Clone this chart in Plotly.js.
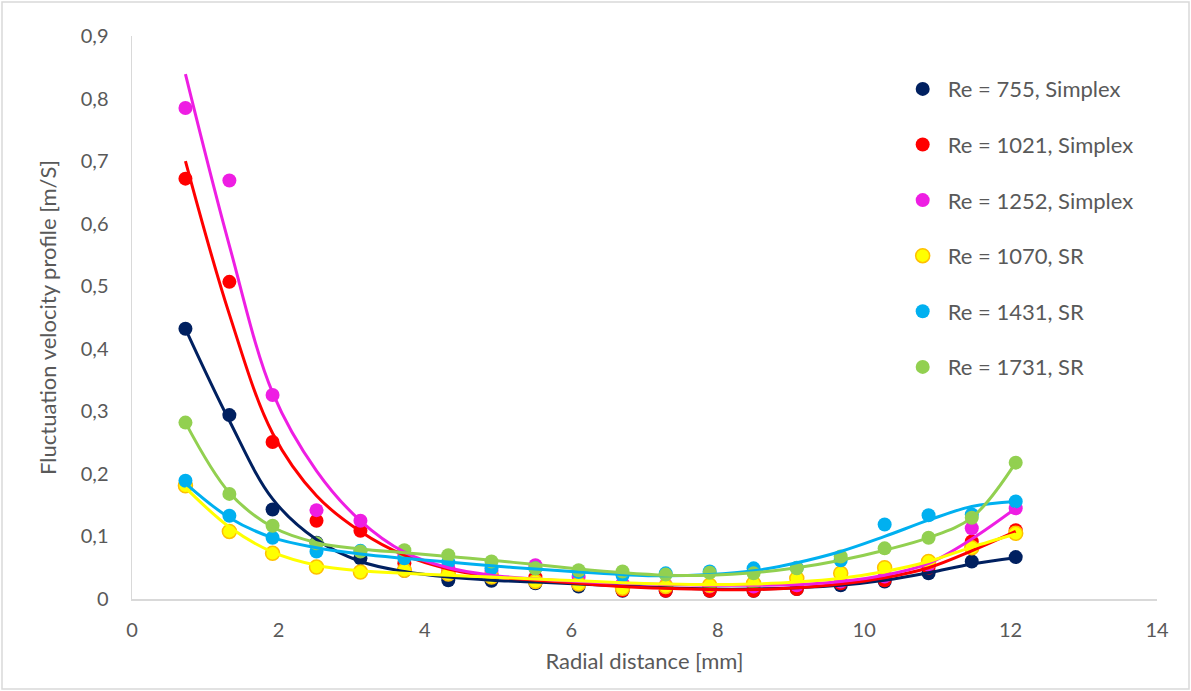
<!DOCTYPE html>
<html>
<head>
<meta charset="utf-8">
<script src="https://cdn.plot.ly/plotly-3.0.1.min.js"></script>
<style>
html,body{margin:0;padding:0;background:#fff;}
#chart{width:1191px;height:691px;}
</style>
</head>
<body>
<div id="chart"></div>
<script>
// Radial distance [mm]
const radial = [0.73,1.33,1.92,2.52,3.12,3.72,4.32,4.91,5.51,6.10,6.70,7.29,7.89,8.49,9.08,9.68,10.28,10.88,11.47,12.07];

// Measured fluctuation velocity [m/s]
const re755  = [0.432,0.294,0.143,0.090,0.065,0.045,0.030,0.029,0.025,0.020,0.013,0.013,0.013,0.013,0.016,0.022,0.028,0.041,0.060,0.067];
const re1021 = [0.672,0.507,0.251,0.125,0.109,0.057,0.045,0.040,0.035,0.025,0.014,0.013,0.013,0.013,0.016,0.025,0.030,0.050,0.092,0.110];
const re1252 = [0.785,0.669,0.326,0.142,0.125,0.070,0.050,0.045,0.054,0.035,0.025,0.022,0.020,0.020,0.022,0.028,0.036,0.055,0.113,0.145];
const re1070 = [0.181,0.108,0.073,0.051,0.043,0.046,0.040,0.035,0.028,0.024,0.017,0.020,0.022,0.025,0.033,0.041,0.050,0.060,0.082,0.105];
const re1431 = [0.189,0.133,0.098,0.076,0.077,0.065,0.059,0.049,0.049,0.043,0.038,0.041,0.044,0.049,0.050,0.062,0.119,0.134,0.135,0.156];
const re1731 = [0.282,0.168,0.117,0.089,0.076,0.078,0.070,0.060,0.049,0.046,0.044,0.039,0.042,0.041,0.049,0.068,0.081,0.098,0.130,0.218];

// Trendline values at the same radial positions
const trend755  = [0.432,0.285,0.160,0.095,0.060,0.044,0.035,0.030,0.027,0.024,0.021,0.018,0.016,0.016,0.018,0.022,0.030,0.042,0.056,0.066];
const trend1021 = [0.700,0.455,0.265,0.165,0.108,0.070,0.048,0.036,0.030,0.025,0.020,0.017,0.015,0.015,0.018,0.024,0.034,0.050,0.077,0.108];
const trend1252 = [0.839,0.565,0.330,0.205,0.125,0.075,0.050,0.038,0.032,0.028,0.025,0.023,0.022,0.022,0.023,0.028,0.038,0.057,0.096,0.145];
const trend1070 = [0.178,0.115,0.075,0.054,0.045,0.041,0.038,0.035,0.032,0.029,0.026,0.024,0.023,0.024,0.027,0.033,0.044,0.060,0.083,0.104];
const trend1431 = [0.185,0.130,0.098,0.082,0.072,0.065,0.059,0.053,0.048,0.043,0.039,0.037,0.039,0.045,0.058,0.076,0.100,0.126,0.148,0.156];
const trend1731 = [0.282,0.170,0.115,0.090,0.080,0.074,0.068,0.062,0.055,0.048,0.042,0.038,0.038,0.042,0.050,0.062,0.078,0.098,0.130,0.218];

const seriesNames = ["Re = 755, Simplex","Re = 1021, Simplex","Re = 1252, Simplex","Re = 1070, SR","Re = 1431, SR","Re = 1731, SR"];
const seriesValues = [re755, re1021, re1252, re1070, re1431, re1731];
const trendValues = [trend755, trend1021, trend1252, trend1070, trend1431, trend1731];
const colors = ["#002060","#FF0000","#EE1EE3","#FFFF00","#00B0F0","#92D050"];
const edgeColors = ["#002060","#FF0000","#EE1EE3","#FFC000","#00B0F0","#92D050"];

const FONT = "Lato, 'Noto Sans', sans-serif";
const GREY = "#595959";

const traces = [];
seriesNames.forEach((nm, i) => {
  traces.push({
    type: "scatter", mode: "markers", name: nm,
    x: radial, y: seriesValues[i],
    legendgroup: "g" + i,
    marker: {size: 14, color: colors[i], line: {color: edgeColors[i], width: i === 3 ? 1.5 : 0}},
    cliponaxis: false
  });
});
seriesNames.forEach((nm, i) => {
  traces.push({
    type: "scatter", mode: "lines", name: nm + " trend",
    x: radial, y: trendValues[i],
    showlegend: false, hoverinfo: "skip",
    line: {color: colors[i], width: 3, shape: "spline", smoothing: 1}
  });
});

const layout = {
  width: 1191, height: 691,
  margin: {l: 132, r: 34, t: 36, b: 92},
  paper_bgcolor: "#ffffff", plot_bgcolor: "#ffffff",
  separators: ", ",
  font: {family: FONT, color: GREY, size: 20},
  showlegend: true,
  legend: {
    x: 0.747, xanchor: "left", y: 0.943, yanchor: "top",
    font: {family: FONT, size: 22, color: GREY},
    traceorder: "grouped", tracegroupgap: 24,
    itemwidth: 40, bgcolor: "rgba(0,0,0,0)"
  },
  xaxis: {
    range: [0, 14], dtick: 2, tick0: 0,
    showgrid: false, zeroline: false,
    showline: true, linecolor: "#D9D9D9", linewidth: 1.5,
    ticks: "", ticklabelstandoff: 12,
    tickfont: {family: FONT, size: 20, color: GREY},
    title: {text: "Radial distance [mm]", font: {family: FONT, size: 22, color: GREY}, standoff: 14}
  },
  yaxis: {
    range: [0, 0.9], dtick: 0.1, tick0: 0,
    showgrid: false, zeroline: false,
    showline: true, linecolor: "#D9D9D9", linewidth: 1.5,
    ticks: "", ticklabelstandoff: 18,
    tickfont: {family: FONT, size: 20, color: GREY},
    title: {text: "Fluctuation velocity profile [m/S]", font: {family: FONT, size: 22, color: GREY}, standoff: 18}
  },
  shapes: [{
    type: "rect", xref: "paper", yref: "paper", layer: "below",
    x0: -130/1025, x1: 1 + 32/1025, y0: -90/563, y1: 1 + 34/563,
    line: {color: "#D9D9D9", width: 1.5}, fillcolor: "rgba(0,0,0,0)"
  }]
};

Plotly.newPlot("chart", traces, layout, {displayModeBar: false, staticPlot: true});
</script>
</body>
</html>
